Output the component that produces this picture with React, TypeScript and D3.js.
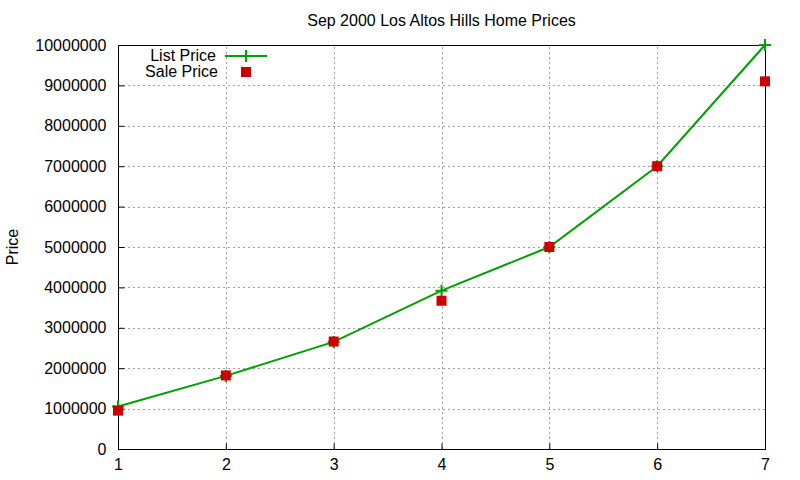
import React, { useEffect, useRef } from 'react';
import * as d3 from 'd3';

const houses = [1, 2, 3, 4, 5, 6, 7];
const listPrice = [1050000, 1810000, 2650000, 3920000, 5000000, 7000000, 10000000];
const salePrice = [950000, 1820000, 2660000, 3670000, 5000000, 7000000, 9100000];
const yTicks = [0, 1000000, 2000000, 3000000, 4000000, 5000000, 6000000, 7000000, 8000000, 9000000, 10000000];

const WIDTH = 800;
const HEIGHT = 480;
const FONT = '"Liberation Sans", Arial, sans-serif';
const GREEN = '#00a000';
const RED = '#cc0000';

const App: React.FC = () => {
  const svgRef = useRef<SVGSVGElement>(null);

  useEffect(() => {
    if (!svgRef.current) return;
    const svg = d3.select(svgRef.current);
    svg.selectAll('*').remove();

    const margin = { top: 45, right: 35, bottom: 31, left: 118 };
    const x = d3.scaleLinear().domain([1, 7]).range([margin.left, WIDTH - margin.right]);
    const y = d3.scaleLinear().domain([0, 10000000]).range([HEIGHT - margin.bottom, margin.top]);

    svg.append('rect').attr('width', WIDTH).attr('height', HEIGHT).attr('fill', 'white');

    // grid
    const grid = svg.append('g')
      .attr('stroke', '#a0a0a0')
      .attr('stroke-width', 1)
      .attr('stroke-dasharray', '2,3');
    yTicks.slice(1, -1).forEach(t => {
      grid.append('line')
        .attr('x1', x(1)).attr('x2', x(7))
        .attr('y1', Math.round(y(t)) + 0.5).attr('y2', Math.round(y(t)) + 0.5);
    });
    houses.slice(1, -1).forEach(h => {
      grid.append('line')
        .attr('y1', y(0)).attr('y2', y(10000000))
        .attr('x1', Math.round(x(h)) + 0.5).attr('x2', Math.round(x(h)) + 0.5);
    });

    // axes (gnuplot style: ticks inward, labels outside)
    const yAxis = d3.axisLeft(y).tickValues(yTicks).tickSize(-6).tickPadding(12).tickFormat(d3.format('d'));
    const xAxis = d3.axisBottom(x).tickValues(houses).tickSize(-6).tickPadding(12).tickFormat(d3.format('d'));

    const gy = svg.append('g').attr('transform', `translate(${margin.left + 0.5},0)`).call(yAxis);
    const gx = svg.append('g').attr('transform', `translate(0,${HEIGHT - margin.bottom + 0.5})`).call(xAxis);
    [gy, gx].forEach(g => {
      g.select('.domain').remove();
      g.selectAll('text').attr('font-family', FONT).attr('font-size', 16).attr('fill', 'black');
      g.selectAll('line').attr('stroke', 'black');
    });
    gx.selectAll('text').attr('dy', '0.5em');

    // frame
    svg.append('rect')
      .attr('x', margin.left + 0.5).attr('y', margin.top + 0.5)
      .attr('width', x(7) - x(1)).attr('height', y(0) - y(10000000))
      .attr('fill', 'none').attr('stroke', 'black').attr('stroke-width', 1);

    // list price line
    const line = d3.line<number>()
      .x((_, i) => x(houses[i]))
      .y(d => y(d));
    svg.append('path')
      .datum(listPrice)
      .attr('d', line)
      .attr('fill', 'none')
      .attr('stroke', GREEN)
      .attr('stroke-width', 2);

    const plus = d3.symbol().type(d3.symbolCross);
    const drawPlus = (cx: number, cy: number) => {
      svg.append('path')
        .attr('d', `M${cx - 6},${cy}H${cx + 6}M${cx},${cy - 6}V${cy + 6}`)
        .attr('stroke', GREEN).attr('stroke-width', 2).attr('fill', 'none');
    };
    void plus;
    listPrice.forEach((v, i) => drawPlus(x(houses[i]), y(v)));

    // sale price squares
    svg.append('g').selectAll('rect')
      .data(salePrice)
      .enter()
      .append('rect')
      .attr('x', (_, i) => x(houses[i]) - 5)
      .attr('y', d => y(d) - 5)
      .attr('width', 10).attr('height', 10)
      .attr('fill', RED);

    // title and label
    svg.append('text')
      .attr('x', (x(1) + x(7)) / 2).attr('y', 26)
      .attr('text-anchor', 'middle')
      .attr('font-family', FONT).attr('font-size', 16)
      .text('Sep 2000 Los Altos Hills Home Prices');

    svg.append('text')
      .attr('transform', `translate(18,${(y(0) + y(10000000)) / 2}) rotate(-90)`)
      .attr('text-anchor', 'middle')
      .attr('font-family', FONT).attr('font-size', 16)
      .text('Price');

    // legend
    const legend = svg.append('g').attr('font-family', FONT).attr('font-size', 16);
    legend.append('text').attr('x', 216).attr('y', 61).attr('text-anchor', 'end').text('List Price');
    legend.append('line')
      .attr('x1', 225).attr('x2', 267).attr('y1', 56).attr('y2', 56)
      .attr('stroke', GREEN).attr('stroke-width', 2);
    drawPlus(246, 56);
    legend.append('text').attr('x', 218).attr('y', 77).attr('text-anchor', 'end').text('Sale Price');
    legend.append('rect').attr('x', 241).attr('y', 67).attr('width', 10).attr('height', 10).attr('fill', RED);
  }, []);

  return (
    <svg
      ref={svgRef}
      width={WIDTH}
      height={HEIGHT}
      style={{ position: 'absolute', left: 0, top: 0 }}
    />
  );
};

export default App;
